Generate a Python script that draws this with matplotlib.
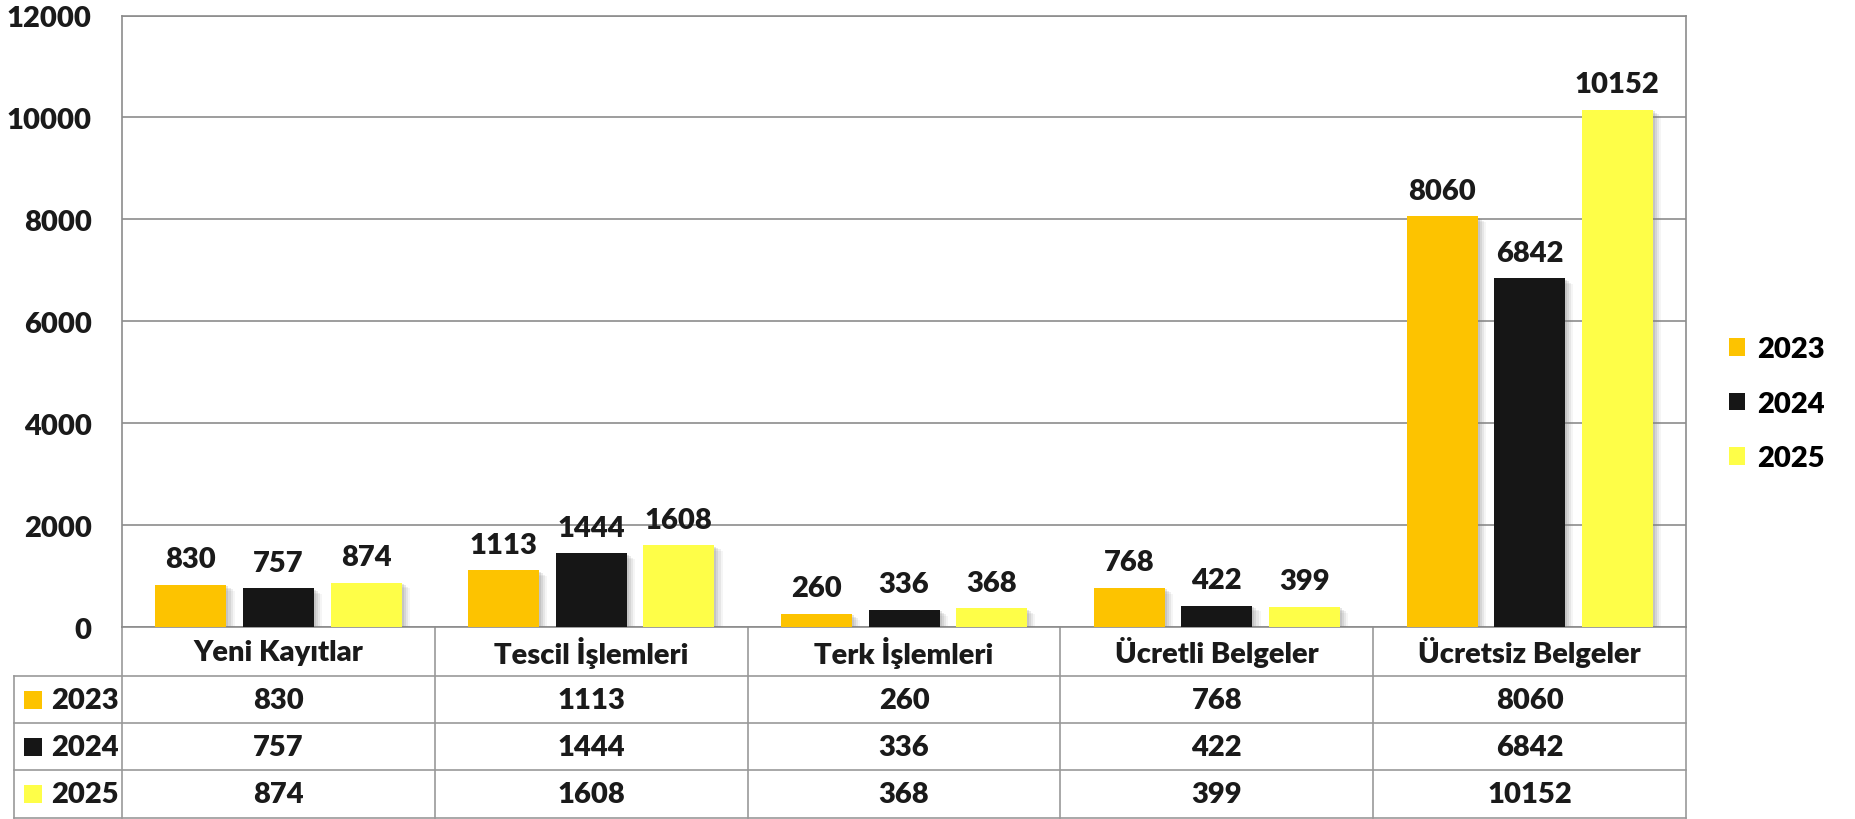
import matplotlib
matplotlib.use("Agg")
import matplotlib.pyplot as plt
import matplotlib.patheffects as pe
from matplotlib.patches import Patch
import numpy as np

plt.rcParams['font.family'] = ['Lato', 'DejaVu Sans']
plt.rcParams['font.weight'] = 'heavy'

categories = ["Yeni Kayıtlar", "Tescil İşlemleri", "Terk İşlemleri",
              "Ücretli Belgeler", "Ücretsiz Belgeler"]
years = ["2023", "2024", "2025"]
values_2023 = [830, 1113, 260, 768, 8060]
values_2024 = [757, 1444, 336, 422, 6842]
values_2025 = [874, 1608, 368, 399, 10152]
yticks = [0, 2000, 4000, 6000, 8000, 10000, 12000]

series = [values_2023, values_2024, values_2025]
colors = ["#FDC300", "#161616", "#FEFE48"]
grid_col = "#8c8c8c"
FS = 21

fig = plt.figure(figsize=(18.55, 8.2), dpi=100)
ax = fig.add_axes([0.0658, 0.2341, 0.8431, 0.7457])

x = np.arange(len(categories))
# soft drop shadow, built from a few faint offset copies
shadow = [pe.SimplePatchShadow(offset=(o, -o * 0.7), shadow_rgbFace="#808080", alpha=a)
          for o, a in [(6, 0.08), (4.5, 0.12), (3, 0.16), (1.5, 0.2)]]
shadow.append(pe.Normal())
for i, (vals, col) in enumerate(zip(series, colors)):
    bars = ax.bar(x + (i - 1) * 0.28, vals, width=0.227, color=col, zorder=3,
                  path_effects=shadow)
    for b, v in zip(bars, vals):
        ax.annotate(str(v), (b.get_x() + b.get_width() / 2, v),
                    xytext=(0, 9), textcoords="offset points",
                    ha="center", va="bottom", fontsize=FS, color="#1a1a1a")

ax.set_xlim(-0.5, len(categories) - 0.5)
ax.set_ylim(0, 12000)
ax.set_yticks(yticks)
ax.set_yticklabels([str(t) for t in yticks], fontsize=FS, color="#1a1a1a")
ax.set_xticks([])
ax.tick_params(axis="y", length=0, pad=22)
ax.grid(axis="y", color=grid_col, linewidth=1.2, zorder=0)
for s in ax.spines.values():
    s.set_color(grid_col)
    s.set_linewidth(1.2)

# data table under the plot
tr = ax.get_xaxis_transform()
row_y = [0, -0.0801, -0.157, -0.234, -0.312]
left = -0.845
lkw = dict(transform=tr, clip_on=False, color="#999999", linewidth=1.2)
for xb in np.arange(-0.5, len(categories), 1.0):
    ax.plot([xb, xb], [0, row_y[-1]], **lkw)
ax.plot([left, left], [row_y[1], row_y[-1]], **lkw)
for yb in row_y[1:]:
    ax.plot([left, len(categories) - 0.5], [yb, yb], **lkw)

for xi, cat in zip(x, categories):
    ax.text(xi, (row_y[0] + row_y[1]) / 2, cat, transform=tr, ha="center",
            va="center", fontsize=FS, color="#1a1a1a")
for r, (yr, vals, col) in enumerate(zip(years, series, colors)):
    yc = (row_y[r + 1] + row_y[r + 2]) / 2
    ax.plot([-0.786], [yc], marker="s", markersize=13.5, markeredgewidth=0,
            color=col, transform=tr, clip_on=False)
    ax.text(-0.728, yc, yr, transform=tr, ha="left", va="center",
            fontsize=FS, color="#1a1a1a")
    for xi, v in zip(x, vals):
        ax.text(xi, yc, str(v), transform=tr, ha="center", va="center",
                fontsize=FS, color="#1a1a1a")

handles = [Patch(facecolor=c, edgecolor="none") for c in colors]
ax.legend(handles, years, loc="center left", bbox_to_anchor=(1.02, 0.365),
          frameon=False, fontsize=FS, handlelength=0.56, handleheight=0.56,
          handletextpad=0.4, labelspacing=0.98, borderaxespad=0)

fig.savefig("out.png", dpi=100)
